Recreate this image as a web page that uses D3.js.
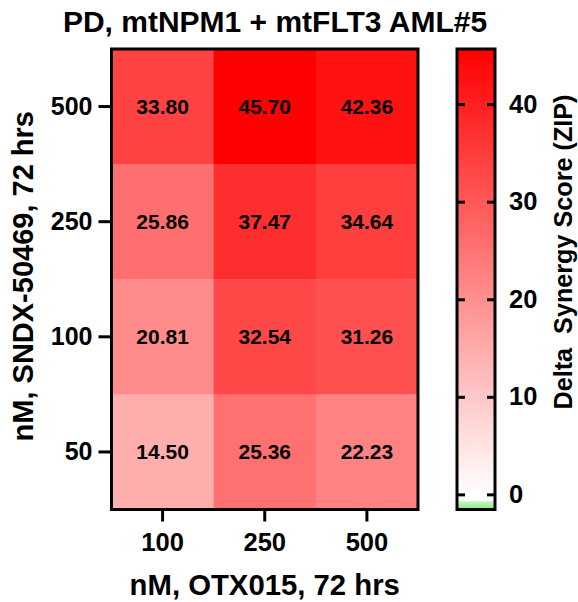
<!DOCTYPE html>
<html>
<head>
<meta charset="utf-8">
<script src="https://cdn.jsdelivr.net/npm/d3@7"></script>
<style>
  html, body { margin: 0; padding: 0; background: #fff; }
  svg { display: block; }
  text { font-family: "Liberation Sans", Arial, Helvetica, sans-serif; font-weight: bold; fill: #000; }
</style>
</head>
<body>
<svg id="chart" width="578" height="602"></svg>
<script>
// ---- data ----
const xCategories = ["100", "250", "500"];            // nM, OTX015
const yCategories = ["500", "250", "100", "50"];      // nM, SNDX-50469 (top to bottom)
const row500 = [33.80, 45.70, 42.36];
const row250 = [25.86, 37.47, 34.64];
const row100 = [20.81, 32.54, 31.26];
const row50  = [14.50, 25.36, 22.23];
const colorTicks = [0, 10, 20, 30, 40];
const colorDomain = [-1.55, 45.65];

const titleText = "PD, mtNPM1 + mtFLT3 AML#5";
const xTitle = "nM, OTX015, 72 hrs";
const yTitle = "nM, SNDX-50469, 72 hrs";
const cTitle = "Delta\u00A0 Synergy Score (ZIP)";

const rows = { "500": row500, "250": row250, "100": row100, "50": row50 };
const cells = [];
yCategories.forEach(r => rows[r].forEach((v, i) => cells.push({ row: r, col: xCategories[i], value: v })));

// ---- layout ----
const svg = d3.select("#chart");
const L = 111.5, R = 418, T = 49, B = 509.5;

const x = d3.scaleBand().domain(xCategories).range([L, R]).padding(0);
const y = d3.scaleBand().domain(yCategories).range([T, B]).padding(0);

const color = d3.scaleLinear()
  .domain([colorDomain[0], -0.75, -0.62, 0, colorDomain[1]])
  .range(["#86e486", "#c4f6c4", "#fdfdfd", "#ffffff", "#ff0000"])
  .clamp(true);

// cells
svg.append("g").selectAll("rect").data(cells).join("rect")
  .attr("x", d => x(d.col))
  .attr("y", d => y(d.row))
  .attr("width", x.bandwidth() + 0.5)
  .attr("height", y.bandwidth() + 0.5)
  .attr("fill", d => color(d.value));

svg.append("g").selectAll("text").data(cells).join("text")
  .attr("x", d => x(d.col) + x.bandwidth() / 2)
  .attr("y", d => y(d.row) + y.bandwidth() / 2)
  .attr("dy", "0.36em")
  .attr("text-anchor", "middle")
  .style("font-size", "21px")
  .text(d => d.value.toFixed(2));

// border
svg.append("rect")
  .attr("x", L).attr("y", T).attr("width", R - L).attr("height", B - T)
  .attr("fill", "none").attr("stroke", "#000").attr("stroke-width", 3);

// y axis
const gy = svg.append("g").attr("transform", `translate(${L},0)`)
  .call(d3.axisLeft(y).tickSize(13).tickSizeOuter(0).tickPadding(6));
gy.select(".domain").remove();
gy.selectAll(".tick line").attr("stroke", "#000").attr("stroke-width", 3);
gy.selectAll(".tick text").style("font-size", "25px").attr("fill", "#000");

// x axis
const gx = svg.append("g").attr("transform", `translate(0,${B})`)
  .call(d3.axisBottom(x).tickSize(12).tickSizeOuter(0));
gx.select(".domain").remove();
gx.selectAll(".tick line").attr("stroke", "#000").attr("stroke-width", 3);
gx.selectAll(".tick text").style("font-size", "25.5px").attr("fill", "#000")
  .attr("y", 41).attr("dy", "0");

svg.selectAll(".tick text").attr("font-family", null).attr("font-size", null);

// titles
svg.append("text").attr("x", 275).attr("y", 32).attr("text-anchor", "middle")
  .style("font-size", "30px").text(titleText);
svg.append("text").attr("x", (L + R) / 2).attr("y", 595).attr("text-anchor", "middle")
  .style("font-size", "29.3px").text(xTitle);
svg.append("text").attr("transform", `translate(33,${(T + B) / 2 - 3}) rotate(-90)`)
  .attr("text-anchor", "middle").style("font-size", "29px").text(yTitle);

// color bar
const cbL = 457, cbR = 495;
const cy = d3.scaleLinear().domain(colorDomain).range([B, T]);
const defs = svg.append("defs");
const grad = defs.append("linearGradient").attr("id", "cbgrad")
  .attr("x1", 0).attr("y1", 1).attr("x2", 0).attr("y2", 0);
const stopVals = d3.range(0, 101).map(i => colorDomain[0] + (colorDomain[1] - colorDomain[0]) * i / 100)
  .concat(color.domain()).sort((a, b) => a - b);
grad.selectAll("stop").data(stopVals).join("stop")
  .attr("offset", v => (v - colorDomain[0]) / (colorDomain[1] - colorDomain[0]))
  .attr("stop-color", v => color(v));

svg.append("rect").attr("x", cbL).attr("y", T).attr("width", cbR - cbL).attr("height", B - T)
  .attr("fill", "url(#cbgrad)");

const cbRight = svg.append("g").attr("transform", `translate(${cbR},0)`)
  .call(d3.axisRight(cy).tickValues(colorTicks).tickSize(-8).tickPadding(14).tickFormat(d3.format("d")));
cbRight.select(".domain").remove();
cbRight.selectAll(".tick line").attr("stroke", "#000").attr("stroke-width", 3);
cbRight.selectAll(".tick text").style("font-size", "25.5px").attr("fill", "#000")
  .attr("font-family", null).attr("font-size", null);

const cbLeft = svg.append("g").attr("transform", `translate(${cbL},0)`)
  .call(d3.axisLeft(cy).tickValues(colorTicks).tickSize(-8).tickFormat(""));
cbLeft.select(".domain").remove();
cbLeft.selectAll(".tick line").attr("stroke", "#000").attr("stroke-width", 3);

svg.append("rect").attr("x", cbL).attr("y", T).attr("width", cbR - cbL).attr("height", B - T)
  .attr("fill", "none").attr("stroke", "#000").attr("stroke-width", 3);

svg.append("text").attr("transform", `translate(572,252) rotate(-90)`)
  .attr("text-anchor", "middle").style("font-size", "25.2px").text(cTitle);
</script>
</body>
</html>
